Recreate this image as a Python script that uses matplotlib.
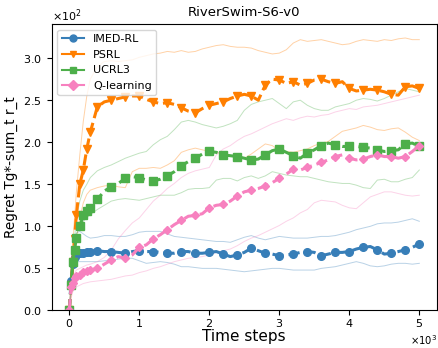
import numpy as np
import matplotlib
matplotlib.use("Agg")
from matplotlib import pyplot as plt
from matplotlib.lines import Line2D

# time grid (steps)
steps = [0, 25, 50, 75, 100, 150, 200, 250, 300] + list(range(400, 5001, 100))

# IMED-RL
imed_mean = [0, 35, 55, 64, 68, 68, 68, 69, 70,
             71, 70, 70, 69, 68, 70, 71, 70, 70, 69, 68, 68, 70, 70, 68, 68,
             69, 70, 67, 64, 66, 69, 74, 71, 68, 67, 65, 66, 67, 69, 70, 69,
             65, 67, 69, 69, 70, 73, 75, 76, 72, 67, 68, 70, 72, 75, 79]
imed_hi = [0, 40, 70, 85, 92, 94, 91, 88, 86,
           87, 89, 89, 88, 88, 90, 93, 94, 94, 94, 91, 88, 87, 86, 85, 84,
           83, 82, 82, 81, 84, 87, 89, 86, 84, 86, 88, 87, 86, 86, 86, 87,
           88, 88, 89, 91, 93, 96, 98, 100, 103, 104, 104, 105, 107, 109, 106]
imed_lo = [0, 25, 45, 54, 58, 58, 58, 58, 58,
           58, 59, 60, 61, 62, 62, 59, 56, 57, 58, 57, 55, 52, 52, 51, 50,
           50, 50, 49, 48, 47, 46, 47, 48, 49, 50, 50, 49, 48, 48, 48, 48,
           50, 51, 52, 54, 56, 58, 56, 53, 52, 53, 55, 56, 56, 55, 56]

# PSRL
psrl_mean = [0, 30, 58, 85, 113, 150, 167, 192, 212,
             242, 248, 250, 252, 254, 255, 255, 251, 248, 246, 247, 245, 241, 237, 235, 240,
             244, 246, 248, 252, 255, 257, 255, 250, 268, 275, 274, 270, 272, 268, 270, 274,
             275, 272, 270, 272, 264, 261, 262, 263, 262, 260, 257, 256, 266, 267, 264]
psrl_hi = [0, 40, 80, 110, 140, 185, 225, 255, 275,
           290, 296, 297, 296, 297, 298, 301, 303, 305, 306, 308, 307, 309, 307, 308, 311,
           313, 315, 316, 314, 313, 313, 312, 309, 307, 305, 306, 310, 318, 322, 320, 321,
           322, 320, 318, 316, 317, 320, 322, 321, 320, 322, 321, 323, 324, 322, 322]
psrl_lo = [0, 15, 35, 60, 85, 110, 128, 138, 143,
           146, 148, 149, 147, 146, 165, 169, 169, 170, 169, 173, 178, 188, 191, 193, 191,
           189, 188, 186, 184, 182, 181, 186, 192, 198, 196, 190, 189, 188, 190, 192, 196,
           199, 201, 207, 213, 215, 217, 220, 218, 215, 214, 216, 217, 212, 206, 202]

# UCRL3
ucrl_mean = [0, 30, 57, 72, 86, 100, 113, 118, 122,
             132, 142, 147, 151, 157, 159, 158, 155, 154, 156, 160, 165, 172, 177, 181, 186,
             189, 188, 185, 184, 183, 181, 179, 180, 185, 190, 192, 188, 184, 181, 187, 191,
             196, 199, 197, 195, 195, 195, 194, 193, 191, 189, 190, 191, 198, 199, 195]
ucrl_hi = [0, 25, 55, 85, 110, 130, 143, 150, 158,
           166, 170, 173, 177, 181, 184, 187, 189, 197, 203, 207, 215, 224, 226, 224, 221,
           219, 217, 219, 222, 226, 238, 245, 248, 250, 252, 246, 240, 248, 250, 244, 240,
           238, 238, 242, 244, 246, 250, 252, 251, 249, 252, 256, 260, 264, 262, 260]
ucrl_lo = [0, 20, 45, 75, 90, 100, 106, 110, 114,
           120, 125, 130, 132, 133, 132, 131, 133, 135, 137, 137, 137, 140, 144, 145, 145,
           146, 155, 157, 157, 154, 158, 160, 157, 160, 165, 163, 161, 160, 159, 159, 157,
           155, 153, 152, 151, 151, 149, 146, 145, 155, 156, 153, 153, 156, 158, 167]

# Q-learning
ql_mean = [0, 28, 33, 39, 41, 42, 46, 47, 48,
           50, 55, 60, 64, 62, 66, 75, 78, 85, 90, 96, 102, 107, 112, 113, 115,
           122, 125, 126, 130, 136, 141, 143, 145, 148, 152, 157, 162, 168, 167, 170, 173,
           176, 179, 183, 185, 181, 179, 180, 183, 185, 183, 183, 181, 183, 189, 196]
ql_hi = [0, 25, 38, 44, 48, 50, 52, 54, 55,
         58, 63, 72, 85, 95, 104, 110, 120, 130, 137, 145, 151, 158, 163, 166, 168,
         170, 185, 192, 196, 202, 207, 210, 214, 218, 222, 225, 228, 226, 229, 231, 230,
         232, 233, 236, 238, 240, 239, 242, 243, 244, 246, 248, 250, 252, 254, 256]
ql_lo = [0, 15, 22, 26, 28, 30, 32, 33, 34,
         35, 36, 37, 39, 41, 42, 45, 47, 50, 52, 55, 58, 60, 62, 63, 64,
         66, 69, 71, 73, 77, 82, 86, 89, 93, 97, 101, 106, 110, 116, 120, 128,
         131, 130, 129, 125, 122, 121, 128, 135, 138, 141, 141, 139, 137, 136, 137]

names = ["IMED-RL", "PSRL", "UCRL3", "Q-learning"]
colors = ["#377eb8", "#ff7f00", "#4daf4a", "#f781bf"]
markers = ["o", "v", "s", "D"]
means = [imed_mean, psrl_mean, ucrl_mean, ql_mean]
highs = [imed_hi, psrl_hi, ucrl_hi, ql_hi]
lows = [imed_lo, psrl_lo, ucrl_lo, ql_lo]

mark_idx = list(range(0, 9)) + list(range(9, len(steps), 2))

fig, ax = plt.subplots(figsize=(4.39, 3.48), dpi=100)
fig.subplots_adjust(left=0.118, right=0.995, top=0.93, bottom=0.108)

for m, hi, lo, c in zip(means, highs, lows, colors):
    ax.plot(steps, hi, color=c, lw=0.7, alpha=0.35)
    ax.plot(steps, lo, color=c, lw=0.7, alpha=0.35)

for m, c, mk in zip(means, colors, markers):
    ms = 4.5 if mk == "D" else 5.5
    ax.plot(steps, m, color=c, ls="--", lw=2.2, marker=mk, ms=ms,
            markevery=mark_idx)

ax.set_ylim(bottom=0)
ax.ticklabel_format(style="sci", axis="both", scilimits=(0, 0), useMathText=True)
ax.tick_params(labelsize=8)
ax.tick_params(axis="x", pad=1.5)
ax.xaxis.get_offset_text().set_fontsize(7.2)
ax.yaxis.get_offset_text().set_fontsize(8)

ax.set_title("RiverSwim-S6-v0", fontsize=9.5)
ax.set_xlabel("Time steps", fontsize=11, labelpad=0)
ax.set_ylabel("Regret Tg*-sum_t r_t", fontsize=9.8)

handles = [Line2D([], [], color=c, marker=mk, lw=1.5, ms=5)
           for c, mk in zip(colors, markers)]
ax.legend(handles, names, loc="upper left", fontsize=8)

fig.savefig("out.png", dpi=100)
